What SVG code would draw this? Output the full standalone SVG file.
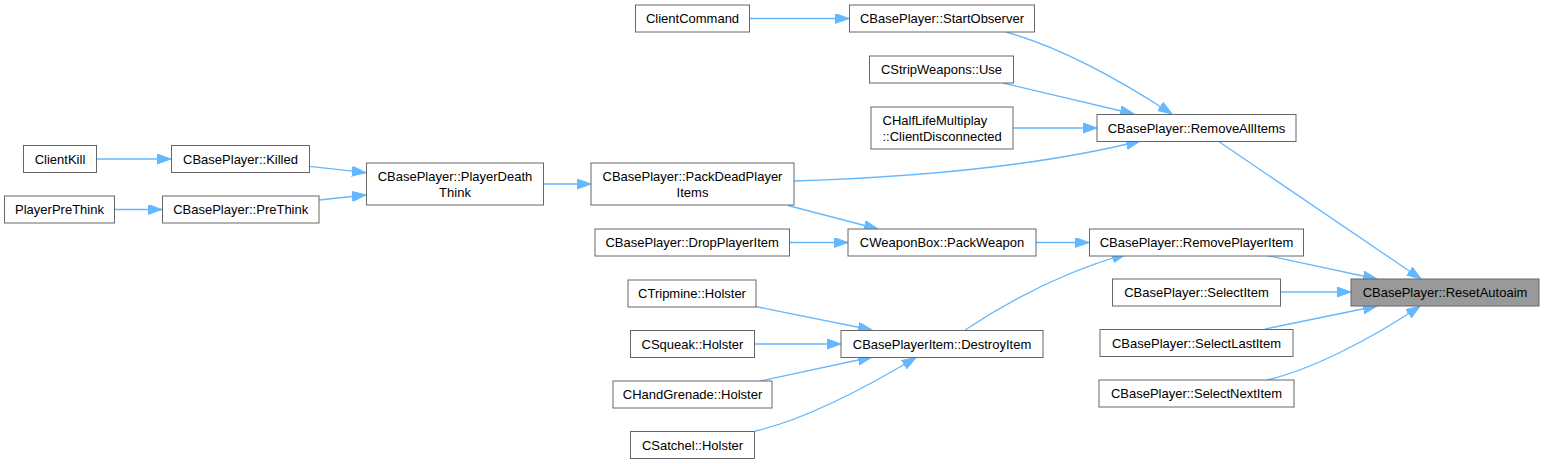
<svg xmlns="http://www.w3.org/2000/svg" width="1544" height="464" viewBox="0 0 1544 464">
<style>
.n rect{fill:#ffffff;stroke:#666666;stroke-width:1}
.n.main rect{fill:#999999}
.n text{font-family:"Liberation Sans",Arial,sans-serif;font-size:13px;fill:#000000;text-anchor:middle}
.n text.l{text-anchor:start}
#edges path{fill:none;stroke:#63b8ff;stroke-width:1.3;marker-end:url(#ah)}
</style>
<defs>
<marker id="ah" markerUnits="userSpaceOnUse" markerWidth="15" markerHeight="11" refX="14" refY="5" orient="auto">
<path d="M0,0 L14,5 L0,10 z" fill="#63b8ff" stroke="#63b8ff" stroke-width="1"/>
</marker>
</defs>
<rect width="1544" height="464" fill="#ffffff"/>
<g id="edges">
<path d="M96.5,159 L171,159"/>
<path d="M114.5,209.5 L162,209.5"/>
<path d="M309.5,166.3 L366,172.7"/>
<path d="M319,200 L366,195"/>
<path d="M543.5,184 L591,184"/>
<path d="M749.5,18.5 L849,18.5"/>
<path d="M1006,32 C1060,47 1120,80 1172,114"/>
<path d="M1003,83 L1134,114"/>
<path d="M1013,128 L1097,128"/>
<path d="M794,181 C950,176 1060,161 1140,141"/>
<path d="M788,205.5 L878,229"/>
<path d="M789.5,242.5 L848,242.5"/>
<path d="M1036,242.5 L1089,242.5"/>
<path d="M965,330 C995,310 1050,276 1126,254"/>
<path d="M755.5,306.5 L872,330"/>
<path d="M754.5,344 L841,344"/>
<path d="M760.5,381 L872,357"/>
<path d="M755,431 C800,421 860,391 916,357.5"/>
<path d="M1218,141 L1421,279"/>
<path d="M1265,255 L1377,279"/>
<path d="M1280.5,292 L1351,292"/>
<path d="M1265,329 L1377,306"/>
<path d="M1267,380 C1310,370 1370,340 1420,306"/>
</g>
<g id="n_clientkill" class="n"><rect x="23.5" y="145.5" width="73" height="27"/><text x="60" y="163.5">ClientKill</text></g>
<g id="n_playerprethink" class="n"><rect x="4.5" y="196" width="110" height="27"/><text x="59.5" y="214">PlayerPreThink</text></g>
<g id="n_killed" class="n"><rect x="171.5" y="145.5" width="138" height="27"/><text x="240.5" y="163.5">CBasePlayer::Killed</text></g>
<g id="n_prethink" class="n"><rect x="162.5" y="196" width="156.5" height="27"/><text x="240.7" y="214">CBasePlayer::PreThink</text></g>
<g id="n_playerdeaththink" class="n"><rect x="366.5" y="163" width="177" height="42"/><text x="455" y="181">CBasePlayer::PlayerDeath</text><text x="455" y="197">Think</text></g>
<g id="n_packdeadplayeritems" class="n"><rect x="591" y="163" width="203" height="42"/><text x="692.5" y="181">CBasePlayer::PackDeadPlayer</text><text x="692.5" y="197">Items</text></g>
<g id="n_clientcommand" class="n"><rect x="635.5" y="5" width="114" height="27"/><text x="692.5" y="23">ClientCommand</text></g>
<g id="n_startobserver" class="n"><rect x="849.5" y="5" width="185" height="27"/><text x="942" y="23">CBasePlayer::StartObserver</text></g>
<g id="n_stripweapons" class="n"><rect x="869.5" y="56" width="144" height="27"/><text x="941.5" y="74">CStripWeapons::Use</text></g>
<g id="n_clientdisconnected" class="n"><rect x="871" y="107" width="142" height="42"/><text class="l" x="882.5" y="124.5">CHalfLifeMultiplay</text><text class="l" x="882.5" y="140.5">::ClientDisconnected</text></g>
<g id="n_removeallitems" class="n"><rect x="1097" y="114.5" width="199" height="27"/><text x="1196.5" y="132.5">CBasePlayer::RemoveAllItems</text></g>
<g id="n_dropplayeritem" class="n"><rect x="595" y="229" width="194.5" height="27"/><text x="692.2" y="247">CBasePlayer::DropPlayerItem</text></g>
<g id="n_packweapon" class="n"><rect x="848" y="229" width="188" height="27"/><text x="942" y="247">CWeaponBox::PackWeapon</text></g>
<g id="n_removeplayeritem" class="n"><rect x="1089.5" y="229" width="214" height="27"/><text x="1196.5" y="247">CBasePlayer::RemovePlayerItem</text></g>
<g id="n_tripmine" class="n"><rect x="628" y="280" width="128" height="27"/><text x="692" y="298">CTripmine::Holster</text></g>
<g id="n_squeak" class="n"><rect x="630.5" y="330.5" width="124" height="27"/><text x="692.5" y="348.5">CSqueak::Holster</text></g>
<g id="n_handgrenade" class="n"><rect x="613" y="381" width="159" height="27"/><text x="692.5" y="399">CHandGrenade::Holster</text></g>
<g id="n_satchel" class="n"><rect x="630.5" y="431.5" width="124" height="27"/><text x="692.5" y="449.5">CSatchel::Holster</text></g>
<g id="n_destroyitem" class="n"><rect x="841" y="330.5" width="202" height="27"/><text x="942" y="348.5">CBasePlayerItem::DestroyItem</text></g>
<g id="n_selectitem" class="n"><rect x="1112.5" y="279" width="168" height="27"/><text x="1196.5" y="297">CBasePlayer::SelectItem</text></g>
<g id="n_selectlastitem" class="n"><rect x="1100" y="329.5" width="193" height="27"/><text x="1196.5" y="347.5">CBasePlayer::SelectLastItem</text></g>
<g id="n_selectnextitem" class="n"><rect x="1099" y="380" width="195" height="27"/><text x="1196.5" y="398">CBasePlayer::SelectNextItem</text></g>
<g id="n_resetautoaim" class="n main"><rect x="1351" y="279" width="188" height="27"/><text x="1445" y="297">CBasePlayer::ResetAutoaim</text></g>
</svg>
